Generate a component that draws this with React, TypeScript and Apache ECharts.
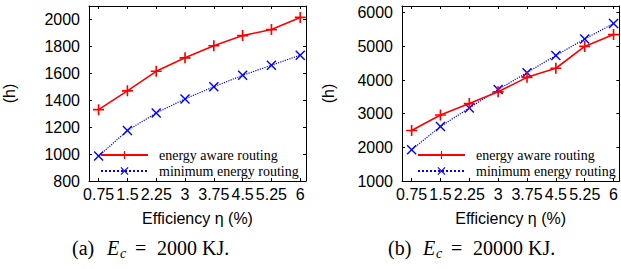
import React, { useEffect, useRef } from "react";
import * as echarts from "echarts";

const efficiency = [0.75, 1.5, 2.25, 3, 3.75, 4.5, 5.25, 6];
const awareA = [1330, 1470, 1615, 1715, 1805, 1880, 1925, 2015];
const minimumA = [985, 1175, 1305, 1410, 1500, 1585, 1660, 1735];
const awareB = [2500, 2960, 3300, 3650, 4080, 4350, 5000, 5350];
const minimumB = [1930, 2620, 3170, 3720, 4220, 4730, 5220, 5680];
const yTicksA = [800, 1000, 1200, 1400, 1600, 1800, 2000];
const yTicksB = [1000, 2000, 3000, 4000, 5000, 6000];
const seriesNames = ["energy aware routing", "minimum energy routing"];

const PLUS = "path://M8.5,0h3v8.5h8.5v3h-8.5v8.5h-3v-8.5h-8.5v-3h8.5z";
const CROSS = "path://M0,2L2,0L10,8L18,0L20,2L12,10L20,18L18,20L10,12L2,20L0,18L8,10Z";

const SANS = "'Liberation Sans', Arial, sans-serif";
const SERIF = "'Liberation Serif', 'Times New Roman', serif";

function pairs(ys: number[]) {
  return efficiency.map((x, i) => [x, ys[i]]);
}

function caption(label: string, value: string, x0: number, y: number) {
  const base = { fontFamily: SERIF, fontSize: 20, fill: "#000" };
  return {
    type: "group",
    children: [
      { type: "text", x: x0, y, style: { ...base, text: label, textVerticalAlign: "middle" } },
      { type: "text", x: x0 + 35, y, style: { ...base, fontStyle: "italic", text: "E", textVerticalAlign: "middle" } },
      { type: "text", x: x0 + 48, y: y + 5, style: { ...base, fontSize: 14, fontStyle: "italic", text: "c", textVerticalAlign: "middle" } },
      { type: "text", x: x0 + 63, y, style: { ...base, text: "=", textVerticalAlign: "middle" } },
      { type: "text", x: x0 + 85, y, style: { ...base, text: value, textVerticalAlign: "middle" } },
    ],
  };
}

export default function App() {
  const ref = useRef<HTMLDivElement>(null);
  useEffect(() => {
    document.body.style.margin = "0";
    const chart = echarts.init(ref.current!, null, { renderer: "svg" });
    const grids = [
      { left: 87, top: 6, width: 219, height: 175 },
      { left: 402, top: 6, width: 218, height: 175 },
    ];
    const xBase = (gi: number, pos: "bottom" | "top") => ({
      type: "value",
      gridIndex: gi,
      position: pos,
      min: 0.5,
      max: 6.15,
      name: pos === "bottom" ? "Efficiency η (%)" : "",
      nameLocation: "middle",
      nameGap: 29,
      nameTextStyle: { fontFamily: SANS, fontSize: 16, color: "#000" },
      axisLine: { show: true, lineStyle: { color: "#000", width: 1 } },
      axisTick: {
        show: true,
        inside: true,
        length: 3,
        customValues: efficiency,
        lineStyle: { color: "#000" },
      },
      axisLabel: {
        show: pos === "bottom",
        customValues: efficiency,
        margin: 5,
        fontFamily: SANS,
        fontSize: 16,
        color: "#000",
        hideOverlap: false,
        formatter: (v: number) => String(v),
      },
      splitLine: { show: false },
    });
    const yBase = (gi: number, pos: "left" | "right", min: number, max: number, ticks: number[], gap: number) => ({
      type: "value",
      gridIndex: gi,
      position: pos,
      min,
      max,
      name: pos === "left" ? "(h)" : "",
      nameLocation: "middle",
      nameRotate: 90,
      nameGap: gap,
      nameTextStyle: { fontFamily: SANS, fontSize: 16, color: "#000" },
      axisLine: { show: true, lineStyle: { color: "#000", width: 1 } },
      axisTick: {
        show: true,
        inside: true,
        length: 3,
        customValues: ticks,
        lineStyle: { color: "#000" },
      },
      axisLabel: {
        show: pos === "left",
        customValues: ticks,
        margin: 9,
        fontFamily: SANS,
        fontSize: 16,
        color: "#000",
        formatter: (v: number) => String(v),
      },
      splitLine: { show: false },
    });
    const mkSeries = (name: string, gi: number, ys: number[]) => {
      const aware = name === seriesNames[0];
      const color = aware ? "#ff0000" : "#0000ff";
      return {
        type: "line",
        name,
        xAxisIndex: gi * 2,
        yAxisIndex: gi * 2,
        data: pairs(ys),
        symbol: aware ? PLUS : CROSS,
        symbolSize: aware ? 11 : 10,
        showAllSymbol: true,
        itemStyle: { color },
        lineStyle: { color, width: aware ? 1.6 : 1.2, type: aware ? "solid" : "dotted" },
        z: aware ? 3 : 2,
      };
    };
    const legendCommon = {
      orient: "vertical",
      itemWidth: 47,
      itemHeight: 10,
      itemGap: 0,
      padding: 0,
      data: seriesNames,
      selectedMode: false,
      textStyle: { fontFamily: SERIF, fontSize: 14, lineHeight: 16, color: "#000", padding: [0, 0, 0, 6] },
    };
    chart.setOption({
      animation: false,
      grid: grids.map((g) => ({ ...g, show: false, containLabel: false })),
      xAxis: [xBase(0, "bottom"), xBase(0, "top"), xBase(1, "bottom"), xBase(1, "top")],
      yAxis: [
        yBase(0, "left", 800, 2100, yTicksA, 72),
        yBase(0, "right", 800, 2100, yTicksA, 0),
        yBase(1, "left", 1000, 6200, yTicksB, 66),
        yBase(1, "right", 1000, 6200, yTicksB, 0),
      ],
      legend: [
        { ...legendCommon, left: 100, top: 147 },
        { ...legendCommon, left: 417, top: 147 },
      ],
      series: [
        mkSeries(seriesNames[0], 0, awareA),
        mkSeries(seriesNames[1], 0, minimumA),
        mkSeries(seriesNames[0], 1, awareB),
        mkSeries(seriesNames[1], 1, minimumB),
      ],
      graphic: [caption("(a)", "2000 KJ.", 72, 248), caption("(b)", "20000 KJ.", 388, 248)],
    });
    return () => chart.dispose();
  }, []);
  return <div ref={ref} style={{ width: 621, height: 269 }} />;
}
